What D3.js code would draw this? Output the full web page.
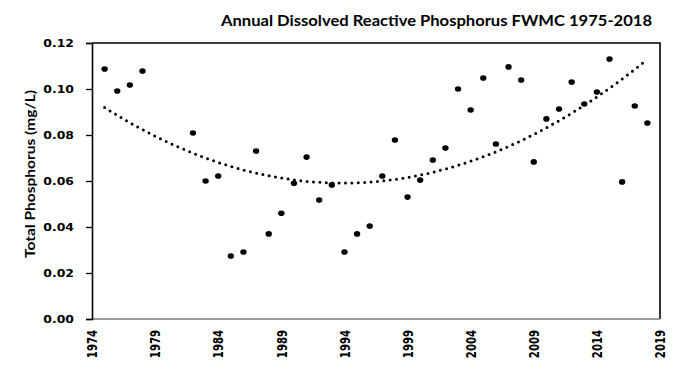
<!DOCTYPE html>
<html><head><meta charset="utf-8">
<script src="https://cdn.jsdelivr.net/npm/d3@7"></script>
<style>body{margin:0;background:#fff}svg{display:block}</style>
</head><body>
<svg id="c" width="674" height="378"></svg>
<script>
const years = [1975,1976,1977,1978,1982,1983,1984,1985,1986,1987,1988,1989,1990,1991,1992,1993,1994,1995,1996,1997,1998,1999,2000,2001,2002,2003,2004,2005,2006,2007,2008,2009,2010,2011,2012,2013,2014,2015,2016,2017,2018];
const values = [0.1087,0.0991,0.1017,0.1078,0.0809,0.0600,0.0622,0.0274,0.0291,0.0730,0.0370,0.0460,0.0590,0.0704,0.0517,0.0583,0.0291,0.0370,0.0404,0.0622,0.0778,0.0530,0.0604,0.0691,0.0743,0.1000,0.0909,0.1048,0.0761,0.1096,0.1039,0.0683,0.0870,0.0913,0.1030,0.0935,0.0987,0.1130,0.0596,0.0926,0.0852];
const xTicks = [1974,1979,1984,1989,1994,1999,2004,2009,2014,2019];
const yTicks = [0,0.02,0.04,0.06,0.08,0.10,0.12];
const title = "Annual Dissolved Reactive Phosphorus FWMC 1975-2018";
const yTitle = "Total Phosphorus (mg/L)";

const L=92,R=660,T=43,B=319;
const svg=d3.select("#c");
const x=d3.scaleLinear().domain([1974,2019]).range([L,R]);
const y=d3.scaleLinear().domain([0,0.12]).range([B,T]);

// plot border (top, right)
svg.append("path").attr("d",`M${L},${T}H${R}V${B}`).attr("fill","none").attr("stroke","#000").attr("stroke-width",1.6);

// x axis line (gray)
svg.append("line").attr("x1",L).attr("x2",R).attr("y1",B).attr("y2",B).attr("stroke","#999").attr("stroke-width",2);

// y axis
const ya=svg.append("g").attr("transform",`translate(${L},0)`)
 .call(d3.axisLeft(y).tickValues(yTicks).tickFormat(d3.format(".2f")).tickSize(6).tickPadding(12));
ya.select(".domain").attr("stroke","#000").attr("stroke-width",1.6);
ya.selectAll(".tick line").attr("stroke","#000").attr("stroke-width",1.3);
ya.selectAll(".tick text").each(function(){
  const t=d3.select(this);
  t.attr("transform",`translate(-18,0) scale(1.13,1)`).attr("x",0)
   .attr("font-family","DejaVu Sans").attr("font-weight","bold").attr("font-size",11).attr("fill","#000");
});

// x tick labels
const xa=svg.append("g").attr("transform",`translate(0,${B})`)
 .call(d3.axisBottom(x).tickValues(xTicks).tickFormat(d3.format("d")).tickSize(0).tickPadding(0));
xa.select(".domain").remove();
xa.selectAll("text").attr("font-family","DejaVu Sans").attr("font-weight","bold").attr("font-size",11).attr("fill","#000")
  .attr("text-anchor","end").attr("dy","0.36em").attr("transform","translate(0,11) rotate(-90) scale(0.92,1.2)").attr("x",0).attr("y",0);

// quadratic trendline (least squares)
const n=years.length;
const xs=years.map(v=>v-1996);
let S=[0,0,0,0,0],Sy=[0,0,0];
for(let i=0;i<n;i++){for(let k=0;k<5;k++)S[k]+=Math.pow(xs[i],k);for(let k=0;k<3;k++)Sy[k]+=values[i]*Math.pow(xs[i],k);}
function solve(A,b){const m=A.map((r,i)=>[...r,b[i]]);const N=b.length;for(let i=0;i<N;i++){let p=i;for(let j=i+1;j<N;j++)if(Math.abs(m[j][i])>Math.abs(m[p][i]))p=j;[m[i],m[p]]=[m[p],m[i]];for(let j=i+1;j<N;j++){const f=m[j][i]/m[i][i];for(let k=i;k<=N;k++)m[j][k]-=f*m[i][k];}}const r=new Array(N);for(let i=N-1;i>=0;i--){let s=m[i][N];for(let k=i+1;k<N;k++)s-=m[i][k]*r[k];r[i]=s/m[i][i];}return r;}
const c=solve([[S[0],S[1],S[2]],[S[1],S[2],S[3]],[S[2],S[3],S[4]]],Sy);
const tr=d3.range(1975,2018.001,0.25).map(t=>{const u=t-1996;return [t,c[0]+c[1]*u+c[2]*u*u];});
svg.append("path").datum(tr).attr("d",d3.line().x(d=>x(d[0])).y(d=>y(d[1])))
 .attr("fill","none").attr("stroke","#000").attr("stroke-width",3).attr("stroke-linecap","round").attr("stroke-dasharray","0 6.4");

// points
svg.append("g").selectAll("ellipse").data(years).join("ellipse")
 .attr("cx",(d)=>x(d)).attr("cy",(d,i)=>y(values[i])).attr("rx",3.2).attr("ry",2.8).attr("fill","#000");

// titles
svg.append("text").attr("x",221).attr("y",26).attr("textLength",431).attr("lengthAdjust","spacingAndGlyphs")
 .attr("font-family","Lato").attr("font-weight","bold").attr("font-size",15).attr("fill","#000").text(title);
svg.append("text").attr("transform",`translate(35,${(T+B)/2-7}) rotate(-90)`).attr("text-anchor","middle")
 .attr("textLength",168).attr("lengthAdjust","spacingAndGlyphs")
 .attr("font-family","Lato").attr("font-weight","bold").attr("font-size",14).attr("fill","#000").text(yTitle);
</script>
</body></html>
